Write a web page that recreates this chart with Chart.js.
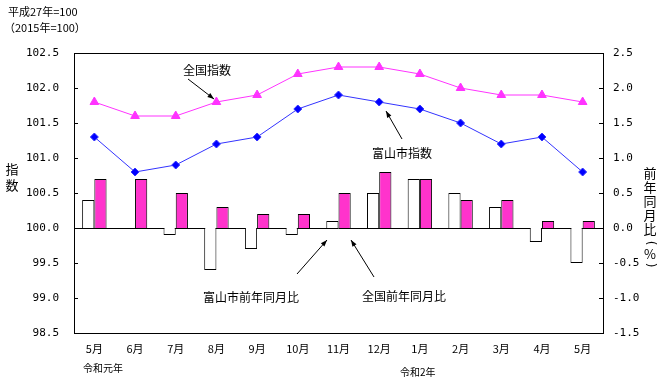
<!DOCTYPE html>
<html>
<head>
<meta charset="utf-8">
<script src="https://cdn.jsdelivr.net/npm/chart.js@4.4.0/dist/chart.umd.min.js"></script>
<style>
  html, body { margin: 0; padding: 0; background: #fff; }
  #wrap { width: 662px; height: 390px; }
</style>
</head>
<body>
<div id="wrap"><canvas id="myChart" width="662" height="390"></canvas></div>
<script>
const months = ['5月', '6月', '7月', '8月', '9月', '10月', '11月', '12月', '1月', '2月', '3月', '4月', '5月']
const zenkokuIndex = [101.8, 101.6, 101.6, 101.8, 101.9, 102.2, 102.3, 102.3, 102.2, 102.0, 101.9, 101.9, 101.8]
const toyamaIndex = [101.3, 100.8, 100.9, 101.2, 101.3, 101.7, 101.9, 101.8, 101.7, 101.5, 101.2, 101.3, 100.8]
const toyamaYoY = [0.4, 0.0, -0.1, -0.6, -0.3, -0.1, 0.1, 0.5, 0.7, 0.5, 0.3, -0.2, -0.5]
const zenkokuYoY = [0.7, 0.7, 0.5, 0.3, 0.2, 0.2, 0.5, 0.8, 0.7, 0.4, 0.4, 0.1, 0.1]

const jpFont = '"Noto Sans CJK JP", sans-serif'
const numFont = '"DejaVu Sans Mono", monospace'

function arrow(ctx, x1, y1, x2, y2) {
    ctx.beginPath()
    ctx.moveTo(x1, y1)
    ctx.lineTo(x2, y2)
    ctx.stroke()
    const a = Math.atan2(y2 - y1, x2 - x1)
    ctx.beginPath()
    ctx.moveTo(x2, y2)
    ctx.lineTo(x2 - 7 * Math.cos(a - 0.35), y2 - 7 * Math.sin(a - 0.35))
    ctx.lineTo(x2 - 7 * Math.cos(a + 0.35), y2 - 7 * Math.sin(a + 0.35))
    ctx.closePath()
    ctx.fill()
}

const decor = {
    id: 'decor',
    beforeDatasetsDraw(chart) {
        const { ctx, chartArea: a } = chart
        const y2 = chart.scales.y2
        ctx.save()
        ctx.strokeStyle = '#000'
        ctx.lineWidth = 1
        // zero line
        const z = Math.round(y2.getPixelForValue(0)) + 0.5
        ctx.beginPath()
        ctx.moveTo(a.left, z)
        ctx.lineTo(a.right, z)
        ctx.stroke()
        ctx.restore()
    },
    afterDraw(chart) {
        const { ctx, chartArea: a } = chart
        const y = chart.scales.y, y2 = chart.scales.y2
        ctx.save()
        ctx.strokeStyle = '#000'
        ctx.fillStyle = '#000'
        ctx.lineWidth = 1
        ctx.strokeRect(Math.round(a.left) + 0.5, Math.round(a.top) + 0.5,
            Math.round(a.right - a.left), Math.round(a.bottom - a.top))
        // inside tick marks
        y.ticks.forEach(t => {
            const p = Math.round(y.getPixelForValue(t.value)) + 0.5
            ctx.beginPath(); ctx.moveTo(a.left, p); ctx.lineTo(a.left + 4, p); ctx.stroke()
        })
        y2.ticks.forEach(t => {
            const p = Math.round(y2.getPixelForValue(t.value)) + 0.5
            ctx.beginPath(); ctx.moveTo(a.right, p); ctx.lineTo(a.right - 4, p); ctx.stroke()
        })

        ctx.font = '11px ' + jpFont
        ctx.textBaseline = 'middle'
        ctx.textAlign = 'left'
        ctx.fillText('平成27年=100', 8, 12)
        ctx.fillText('（2015年=100）', 4, 28)
        ctx.font = '10px ' + jpFont
        ctx.fillText('令和元年', 83, 368)
        ctx.fillText('令和2年', 400, 372)

        // vertical axis titles
        ctx.font = '13px ' + jpFont
        ctx.textAlign = 'center'
        ctx.fillText('指', 12, 169)
        ctx.fillText('数', 12, 185)
        const right = ['前', '年', '同', '月', '比']
        right.forEach((c, i) => ctx.fillText(c, 650, 173 + i * 14))
        ctx.fillText('%', 650, 254)
        ctx.font = '12px "DejaVu Sans", sans-serif'
        ;[['(', 243], [')', 265]].forEach(([c, py]) => {
            ctx.save()
            ctx.translate(650, py)
            ctx.rotate(Math.PI / 2)
            ctx.fillText(c, 0, 0)
            ctx.restore()
        })

        // annotations
        ctx.font = '12px ' + jpFont
        ctx.textAlign = 'left'
        ctx.fillText('全国指数', 183, 70)
        arrow(ctx, 188, 79, 214, 99)
        ctx.fillText('富山市指数', 372, 153)
        arrow(ctx, 402, 139, 386, 111)
        ctx.fillText('富山市前年同月比', 203, 297)
        arrow(ctx, 297, 274, 327, 240)
        ctx.fillText('全国前年同月比', 362, 296)
        arrow(ctx, 374, 277, 351, 240)
        ctx.restore()
    }
}

const ctx = document.getElementById('myChart').getContext('2d')
const myChart = new Chart(ctx, {
    type: 'bar',
    data: {
        labels: months,
        datasets: [{
            type: 'line',
            label: '全国指数',
            data: zenkokuIndex,
            yAxisID: 'y',
            borderColor: '#FF33FF',
            backgroundColor: '#FF33FF',
            borderWidth: 1,
            pointStyle: 'triangle',
            pointRadius: 5,
            order: 0
        }, {
            type: 'line',
            label: '富山市指数',
            data: toyamaIndex,
            yAxisID: 'y',
            borderColor: '#3333FF',
            backgroundColor: '#0000FF',
            borderWidth: 1,
            pointStyle: 'rectRot',
            pointRadius: 4,
            order: 0
        }, {
            label: '富山市前年同月比',
            data: toyamaYoY,
            yAxisID: 'y2',
            backgroundColor: '#FFFFFF',
            borderColor: '#000000',
            borderWidth: 1,
            categoryPercentage: 0.6,
            barPercentage: 1,
            order: 1
        }, {
            label: '全国前年同月比',
            data: zenkokuYoY,
            yAxisID: 'y2',
            backgroundColor: '#FF33CC',
            borderColor: '#000000',
            borderWidth: 1,
            categoryPercentage: 0.6,
            barPercentage: 1,
            order: 1
        }]
    },
    options: {
        responsive: false,
        animation: false,
        layout: { padding: { top: 53, left: 0, right: 0, bottom: 0 } },
        plugins: {
            legend: { display: false },
            tooltip: { enabled: false }
        },
        scales: {
            x: {
                grid: { display: false, drawTicks: false },
                border: { display: false },
                ticks: { color: '#000', font: { family: jpFont, size: 11 }, padding: 9, maxRotation: 0 },
                afterFit(s) { s.height = 57 }
            },
            y: {
                position: 'left',
                min: 98.5,
                max: 102.5,
                grid: { display: false, drawTicks: false },
                border: { display: false },
                ticks: { stepSize: 0.5, color: '#000', font: { family: numFont, size: 11 }, padding: 15,
                    callback: v => v.toFixed(1) },
                afterFit(s) { s.width = 74 }
            },
            y2: {
                position: 'right',
                min: -1.5,
                max: 2.5,
                grid: { display: false, drawTicks: false },
                border: { display: false },
                ticks: { stepSize: 0.5, color: '#000', font: { family: numFont, size: 11 }, padding: 10,
                    callback: v => v.toFixed(1) },
                afterFit(s) { s.width = 59 }
            }
        }
    },
    plugins: [decor]
});
</script>
</body>
</html>
